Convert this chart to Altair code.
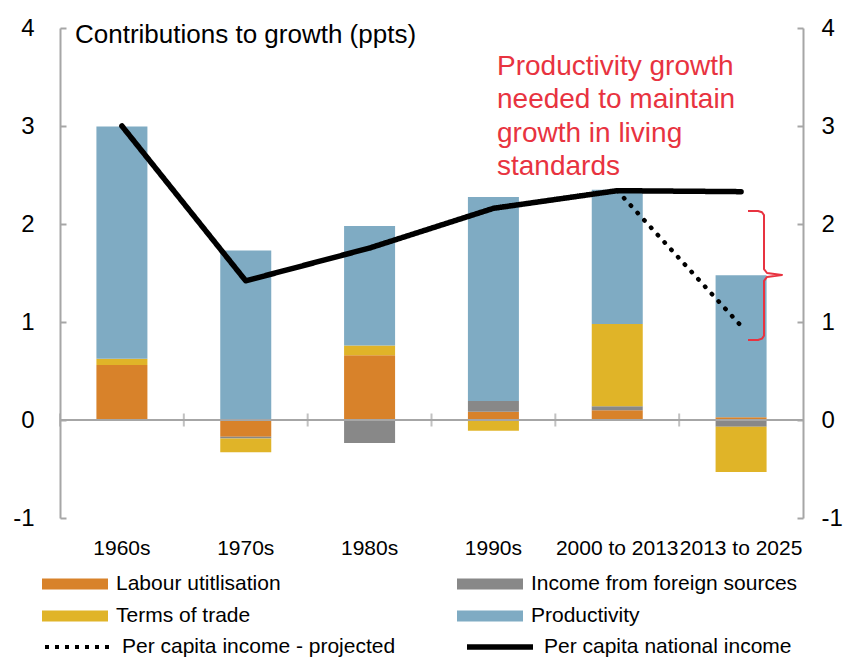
import altair as alt
import pandas as pd

# ---------------- data ----------------
categories = ["1960s", "1970s", "1980s", "1990s", "2000 to 2013", "2013 to 2025"]
# stacking order from zero outward
components = ["Labour utitlisation", "Income from foreign sources", "Terms of trade", "Productivity"]
# legend order (filled column by column)
legend_order = ["Labour utitlisation", "Terms of trade", "Income from foreign sources", "Productivity"]
legend_colors = ["#D8822A", "#E0B428", "#888888", "#7FABC3"]

labour = [0.56, -0.17, 0.66, 0.085, 0.10, 0.027]
foreign = [0.0, -0.02, -0.235, 0.11, 0.04, -0.07]
terms_of_trade = [0.065, -0.14, 0.10, -0.11, 0.84, -0.46]
productivity = [2.37, 1.73, 1.22, 2.08, 1.37, 1.45]

national_income = [3.0, 1.42, 1.755, 2.16, 2.34, 2.33]
projected_cats = ["2000 to 2013", "2013 to 2025"]
projected_income = [2.34, 0.96]
series_names = ["Per capita income - projected", "Per capita national income"]

y_ticks = [-1, 0, 1, 2, 3, 4]

chart_title = "Contributions to growth (ppts)"
annotation_lines = ["Productivity growth", "needed to maintain", "growth in living", "standards"]

# curly bracket annotation (x in pixels from plot left, y in data units)
bracket_x = [688, 698, 702, 704, 704, 707, 722, 707, 704, 704, 702, 698, 688]
bracket_y = [2.133, 2.133, 2.12, 2.09, 1.54, 1.50, 1.48, 1.46, 1.42, 0.86, 0.83, 0.816, 0.816]

# ---------------- tables ----------------
rows = []
for i, c in enumerate(categories):
    for j, (comp, vals) in enumerate(zip(components, [labour, foreign, terms_of_trade, productivity])):
        rows.append({"cat": c, "component": comp, "value": vals[i], "idx": j})
df_bars = pd.DataFrame(rows)
df_nat = pd.DataFrame({"cat": categories, "value": national_income, "series": series_names[1]})
df_proj = pd.DataFrame({"cat": projected_cats, "value": projected_income, "series": series_names[0]})
df_cat = pd.DataFrame({"cat": categories, "z": [0] * len(categories)})
df_zero = pd.DataFrame({"z": [0]})
df_br = pd.DataFrame({"bx": bracket_x, "by": bracket_y, "i": list(range(len(bracket_x)))})
df_one = pd.DataFrame({"t": [chart_title]})

W, H = 743, 490
GREY = "#A6A6A6"
RED = "#E83340"
FONT = "Liberation Sans"
LBL = "'' + datum.value"

xs = alt.Scale(domain=categories, paddingInner=0, paddingOuter=0)
ys = alt.Scale(domain=[-1, 4], nice=False, zero=False)

bars = alt.Chart(df_bars).mark_bar(width=51).encode(
    x=alt.X("cat:N", scale=xs, sort=categories,
            axis=alt.Axis(title=None, domain=False, ticks=False, tickSize=0, labelPadding=19,
                          labelFontSize=21, labelAngle=0, labelColor="black", grid=False)),
    y=alt.Y("value:Q", stack="zero", scale=ys,
            axis=alt.Axis(title=None, orient="left", values=y_ticks, domain=False, ticks=False,
                          tickSize=0, labelPadding=26, labelFontSize=24, labelColor="black",
                          grid=False, labelExpr=LBL)),
    color=alt.Color("component:N", scale=alt.Scale(domain=legend_order, range=legend_colors),
                    legend=alt.Legend(title=None, orient="none", legendX=-18, legendY=545, columns=2,
                                      columnPadding=176, rowPadding=10, clipHeight=22,
                                      symbolType="M-1,-0.17H1V0.17H-1Z", symbolSize=4356,
                                      symbolStrokeWidth=0, labelFontSize=21, labelOffset=8,
                                      labelLimit=500, labelColor="black", padding=0)),
    order=alt.Order("idx:Q"),
)

zero_rule = alt.Chart(df_zero).mark_rule(color=GREY, strokeWidth=2).encode(
    y=alt.Y("z:Q", scale=ys,
            axis=alt.Axis(title=None, orient="right", offset=-W, values=y_ticks, labels=False,
                          domainColor=GREY, domainWidth=2, tickColor=GREY, tickWidth=2, tickSize=6,
                          grid=False)),
)

cat_ticks = alt.Chart(df_cat).mark_tick(orient="vertical", size=13, thickness=2, color=GREY).encode(
    x=alt.X("cat:N", scale=xs, bandPosition=0, axis=None),
    y=alt.Y("z:Q", scale=ys,
            axis=alt.Axis(title=None, orient="left", offset=-W, values=y_ticks, labels=False,
                          domainColor=GREY, domainWidth=2, tickColor=GREY, tickWidth=2, tickSize=6,
                          grid=False)),
)

proj = alt.Chart(df_proj).mark_line(color="black", strokeWidth=4.5, strokeCap="round",
                                     strokeDash=[0.5, 9.5]).encode(
    x=alt.X("cat:N", scale=xs, axis=None),
    y=alt.Y("value:Q", scale=ys, axis=None),
)

nat = alt.Chart(df_nat).mark_line(color="black", strokeCap="round", strokeJoin="round").encode(
    x=alt.X("cat:N", scale=xs, axis=None),
    y=alt.Y("value:Q", scale=ys,
            axis=alt.Axis(title=None, orient="right", values=y_ticks, domain=False, ticks=False,
                          tickSize=0, labelPadding=18, labelFontSize=24, labelColor="black",
                          grid=False, labelExpr=LBL)),
    strokeDash=alt.StrokeDash("series:N", scale=alt.Scale(domain=series_names, range=[[4, 6], [1, 0]]),
                              legend=alt.Legend(title=None, orient="none", legendX=-18, legendY=608,
                                                columns=2, columnPadding=68, clipHeight=22,
                                                symbolType="stroke", symbolSize=4356,
                                                symbolStrokeColor="black", labelFontSize=21,
                                                labelOffset=8, labelLimit=500, labelColor="black",
                                                padding=0)),
    strokeWidth=alt.StrokeWidth("series:N", scale=alt.Scale(domain=series_names, range=[4, 5.5])),
)

bracket = alt.Chart(df_br).mark_line(color=RED, strokeWidth=2, strokeJoin="round").encode(
    x=alt.X("bx:Q", scale=alt.Scale(domain=[0, W], nice=False, zero=False), axis=None),
    y=alt.Y("by:Q", scale=ys, axis=None),
    order=alt.Order("i:Q"),
)

title_text = alt.Chart(df_one).mark_text(align="left", baseline="alphabetic", fontSize=26,
                                          color="black").encode(
    x=alt.value(15), y=alt.value(15), text="t:N")

annot = alt.Chart(df_one).mark_text(align="left", baseline="alphabetic", fontSize=28, color=RED,
                                     lineHeight=33.3, text=annotation_lines).encode(
    x=alt.value(437), y=alt.value(47))

chart = alt.layer(bars, zero_rule, cat_ticks, proj, nat, bracket, title_text, annot).resolve_scale(
    x="independent", y="independent"
).properties(
    width=W, height=H,
    padding={"left": 52, "top": 20, "right": 40, "bottom": 140},
    autosize=alt.AutoSizeParams(type="none"),
).configure(font=FONT).configure_view(stroke=None).configure_axis(labelFont=FONT).configure_legend(
    labelFont=FONT)

chart.save("out.html", embed_options={"renderer": "svg", "actions": False})
